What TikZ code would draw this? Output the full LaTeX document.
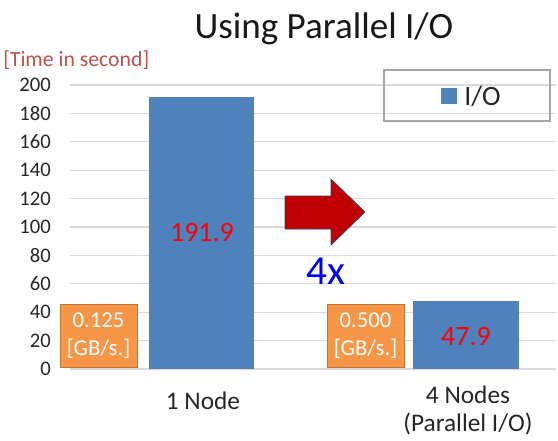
\documentclass[tikz,border=0pt]{standalone}
\usepackage{fontspec}
\setmainfont{Carlito}
\definecolor{barblue}{HTML}{4F81BD}
\definecolor{orangebox}{HTML}{F79646}
\definecolor{orangeedge}{HTML}{C0762F}
\definecolor{arrowred}{HTML}{C00000}
\definecolor{arrowedge}{HTML}{2F3F6F}
\definecolor{gridgray}{HTML}{D9D9D9}
\definecolor{unitred}{HTML}{C0504D}
\definecolor{legendedge}{HTML}{A6A6A6}
\tikzset{
  gridline/.style={draw=gridgray, line width=0.8pt},
  axislbl/.style={anchor=east, inner sep=0pt, font=\fontsize{15.5}{18}\selectfont, text=black!85},
  barfill/.style={fill=barblue},
  vallbl/.style={text=red, inner sep=0pt, font=\fontsize{21}{24}\selectfont},
  gbbox/.style={fill=orangebox, draw=orangeedge, line width=0.6pt, text=white, align=center,
    minimum width=57.75pt, minimum height=47.25pt, inner sep=0pt, font=\fontsize{17}{21}\selectfont},
  catlbl/.style={align=center, inner sep=0pt, text=black!85, font=\fontsize{19}{21}\selectfont},
  bigarrow/.style={fill=arrowred, draw=arrowedge, line width=0.5pt, line join=miter},
}
\begin{document}
\begin{tikzpicture}[x=0.75pt,y=-0.75pt]
\useasboundingbox (0,0) rectangle (558,440);
\fill[white] (0,0) rectangle (558,440);
% grid and axis labels
\foreach \v in {0,20,...,200} {
  \draw[gridline] (70,{369-1.42*\v}) -- (556,{369-1.42*\v});
  \node[axislbl] (t\v) at (51,{369-1.42*\v}) {\v};
}
% title and unit
\node[anchor=base, inner sep=0pt, font=\fontsize{27.8}{31}\selectfont, text=black!90] (title) at (324,38) {Using Parallel I/O};
\node[anchor=base west, inner sep=0pt, font=\fontsize{16.3}{19}\selectfont, text=unitred] (unit) at (3,66) {[Time in second]};
% bars
\fill[barfill] (149,369) rectangle (254,{369-1.42*191.9});
\fill[barfill] (413,369) rectangle (519,{369-1.42*47.9});
\node[vallbl] (v1) at (202,233) {191.9};
\node[vallbl] (v2) at (466,337) {47.9};
% orange boxes
\node[gbbox] (gb1) at (98.5,335.5) {0.125\\{}[GB/s.]};
\node[gbbox] (gb2) at (365.5,336) {0.500\\{}[GB/s.]};
% arrow
\draw[bigarrow] (285,196) -- (331,196) -- (331,179) -- (365,212) -- (331,245) -- (331,229) -- (285,229) -- cycle;
\node[inner sep=0pt, text=blue, font=\fontsize{31}{34}\selectfont] (four) at (326,271) {4x};
% legend
\node[draw=legendedge, line width=1pt, minimum width=124.5pt, minimum height=38.25pt, inner sep=0pt] (legend) at (467,95.5) {};
\fill[barfill] (441,88) rectangle (457,104);
\node[anchor=west, inner sep=0pt, font=\fontsize{21}{24}\selectfont, text=black!85] (leglbl) at (464,96) {I/O};
% category labels
\node[catlbl] (c1) at (203,401) {1 Node};
\node[catlbl] (c2) at (468,410) {4 Nodes\\(Parallel I/O)};
\end{tikzpicture}
\end{document}
